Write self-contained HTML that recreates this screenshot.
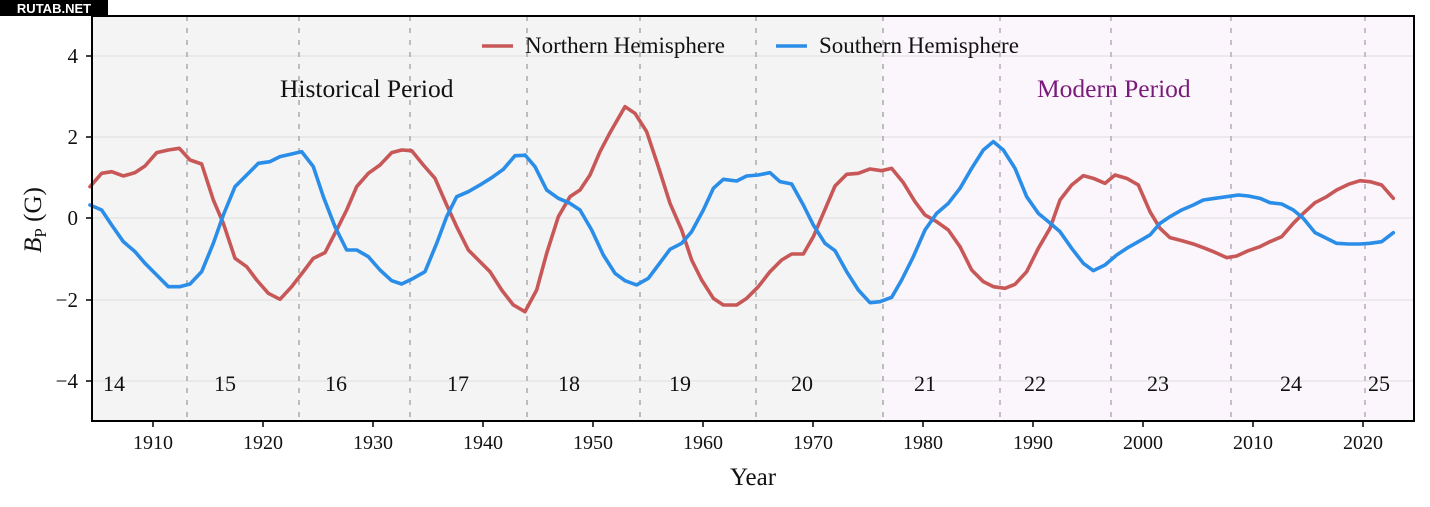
<!DOCTYPE html>
<html><head><meta charset="utf-8"><style>body{margin:0;background:#fff}svg{display:block}</style></head><body>
<svg width="1430" height="507" viewBox="0 0 1430 507" xmlns="http://www.w3.org/2000/svg" font-family="Liberation Serif, serif">
<rect x="92" y="16" width="790" height="405" fill="#f4f4f4"/>
<rect x="882" y="16" width="532" height="405" fill="#fbf6fb"/>
<g stroke="#e2e2e2" stroke-width="1.2">
<line x1="92" x2="1414" y1="56" y2="56"/><line x1="92" x2="1414" y1="137" y2="137"/><line x1="92" x2="1414" y1="218" y2="218"/><line x1="92" x2="1414" y1="300" y2="300"/><line x1="92" x2="1414" y1="381" y2="381"/>
</g>
<g stroke-width="1.5" stroke-dasharray="5,7">
<g stroke="#aaa"><line x1="187" x2="187" y1="16" y2="421"/><line x1="299" x2="299" y1="16" y2="421"/><line x1="410" x2="410" y1="16" y2="421"/><line x1="527" x2="527" y1="16" y2="421"/><line x1="640" x2="640" y1="16" y2="421"/><line x1="756" x2="756" y1="16" y2="421"/><line x1="883" x2="883" y1="16" y2="421"/></g>
<g stroke="#b9a9b9"><line x1="1000" x2="1000" y1="16" y2="421"/><line x1="1111" x2="1111" y1="16" y2="421"/><line x1="1231" x2="1231" y1="16" y2="421"/><line x1="1365" x2="1365" y1="16" y2="421"/></g>
</g>
<g fill="none" stroke-width="3.6" stroke-linejoin="round" stroke-linecap="round">
<g transform="translate(90,90) scale(0.33333)">
<polyline vector-effect="non-scaling-stroke" stroke="#c85858" points="0,290 35,250 65,245 100,258 135,248 165,228 200,188 235,180 268,175 300,210 335,222 370,330 400,400 435,505 470,530 500,570 535,610 570,628 605,590 640,545 670,505 705,488 740,420 770,360 800,290 835,250 870,225 905,188 935,180 965,182 1000,225 1035,265 1070,345 1100,410 1135,480 1165,510 1200,545 1235,600 1270,645 1305,665"/>
<polyline vector-effect="non-scaling-stroke" stroke="#2a8de8" points="0,345 35,360 65,405 100,455 135,485 165,520 200,555 235,590 270,590 300,582 335,545 370,460 400,375 435,290 470,255 505,220 540,215 570,200 605,192 635,185 670,230 700,320 735,410 770,480 800,480 835,500 870,540 905,572 935,582 970,565 1005,545 1040,460 1070,380 1100,320 1135,305 1170,285 1205,263 1240,238 1275,197 1305,196"/>
</g>
<g transform="translate(520,90) scale(0.33333)">
<polyline vector-effect="non-scaling-stroke" stroke="#c85858" points="15,665 50,600 80,490 115,380 150,320 180,300 210,255 240,185 270,128 315,50 345,70 380,125 415,230 450,340 485,420 515,510 545,570 580,625 610,645 650,645 680,625 715,590 750,545 785,510 815,492 850,492 880,440 910,370 945,288 980,253 1015,250 1050,237 1085,242 1115,235 1150,278 1185,335 1215,375 1250,395 1285,420 1320,470"/>
<polyline vector-effect="non-scaling-stroke" stroke="#2a8de8" points="15,195 45,230 80,300 115,325 150,340 180,360 215,420 250,495 285,550 315,572 350,585 385,565 415,525 450,478 485,460 515,425 550,360 580,295 610,268 650,273 680,258 715,255 750,248 780,275 815,282 850,345 880,405 915,460 945,482 980,545 1015,600 1050,638 1080,635 1115,622 1145,570 1180,500 1215,420 1250,370 1285,340 1320,295"/>
</g>
<g transform="translate(960,90) scale(0.33333)">
<polyline vector-effect="non-scaling-stroke" stroke="#c85858" points="0,470 35,540 70,575 100,590 135,595 165,583 200,545 235,475 270,415 300,330 335,285 370,257 400,265 435,280 465,255 500,265 535,285 570,365 600,415 630,443 665,452 700,462 735,475 765,487 800,503 830,498 865,482 900,470 930,455 965,440 1000,400 1030,370 1065,338 1100,320 1130,300 1165,283 1200,272 1230,275 1265,285 1300,325"/>
<polyline vector-effect="non-scaling-stroke" stroke="#2a8de8" points="0,295 35,235 70,180 100,155 130,180 165,235 200,320 235,370 265,395 300,425 335,475 370,520 400,542 435,525 470,495 500,475 535,455 570,435 600,400 630,380 665,360 700,345 730,330 765,325 800,320 835,315 865,318 900,325 930,338 965,342 1000,360 1030,385 1065,428 1100,445 1130,460 1165,462 1200,462 1230,460 1265,455 1300,428"/>
</g>
</g>
<rect x="92" y="16" width="1322" height="405" fill="none" stroke="#000" stroke-width="2"/>
<g stroke="#000" stroke-width="1.5">
<line x1="86" x2="92" y1="56" y2="56"/><line x1="86" x2="92" y1="137" y2="137"/><line x1="86" x2="92" y1="218" y2="218"/><line x1="86" x2="92" y1="300" y2="300"/><line x1="86" x2="92" y1="381" y2="381"/>
<line x1="153" x2="153" y1="421" y2="427"/><line x1="263" x2="263" y1="421" y2="427"/><line x1="373" x2="373" y1="421" y2="427"/><line x1="483" x2="483" y1="421" y2="427"/><line x1="593" x2="593" y1="421" y2="427"/><line x1="703" x2="703" y1="421" y2="427"/><line x1="813" x2="813" y1="421" y2="427"/><line x1="923" x2="923" y1="421" y2="427"/><line x1="1033" x2="1033" y1="421" y2="427"/><line x1="1143" x2="1143" y1="421" y2="427"/><line x1="1253" x2="1253" y1="421" y2="427"/><line x1="1363" x2="1363" y1="421" y2="427"/>
</g>
<g font-size="21" fill="#111" text-anchor="end">
<text x="78" y="63">4</text><text x="78" y="144">2</text><text x="78" y="225">0</text><text x="78" y="307">−2</text><text x="78" y="388">−4</text>
</g>
<g font-size="20" fill="#111" text-anchor="middle">
<text x="153" y="449">1910</text><text x="263" y="449">1920</text><text x="373" y="449">1930</text><text x="483" y="449">1940</text><text x="593" y="449">1950</text><text x="703" y="449">1960</text><text x="813" y="449">1970</text><text x="923" y="449">1980</text><text x="1033" y="449">1990</text><text x="1143" y="449">2000</text><text x="1253" y="449">2010</text><text x="1363" y="449">2020</text>
</g>
<text x="753" y="485" font-size="25" text-anchor="middle" fill="#111">Year</text>
<text transform="translate(41,220) rotate(-90)" font-size="25" text-anchor="middle" fill="#111"><tspan font-style="italic">B</tspan><tspan font-size="17" dy="5">P</tspan><tspan dy="-5">  (G)</tspan></text>
<g font-size="22" fill="#111" text-anchor="middle">
<text x="114" y="391">14</text><text x="225" y="391">15</text><text x="336" y="391">16</text><text x="458" y="391">17</text><text x="569" y="391">18</text><text x="680" y="391">19</text><text x="802" y="391">20</text><text x="925" y="391">21</text><text x="1035" y="391">22</text><text x="1158" y="391">23</text><text x="1291" y="391">24</text><text x="1379" y="391">25</text>
</g>
<text x="280" y="97" font-size="25.5" fill="#111">Historical Period</text>
<text x="1037" y="97" font-size="25.5" fill="#7a1a7a">Modern Period</text>
<line x1="482" x2="513" y1="46" y2="46" stroke="#c85858" stroke-width="3.6"/>
<text x="525" y="53" font-size="23" fill="#111">Northern Hemisphere</text>
<line x1="776" x2="807" y1="46" y2="46" stroke="#2a8de8" stroke-width="3.6"/>
<text x="819" y="53" font-size="23" fill="#111">Southern Hemisphere</text>
<rect x="0" y="0" width="108" height="16" fill="#000"/>
<text x="54" y="13" font-family="Liberation Sans, sans-serif" font-weight="bold" font-size="13" fill="#fff" text-anchor="middle">RUTAB.NET</text>
</svg>
</body></html>
